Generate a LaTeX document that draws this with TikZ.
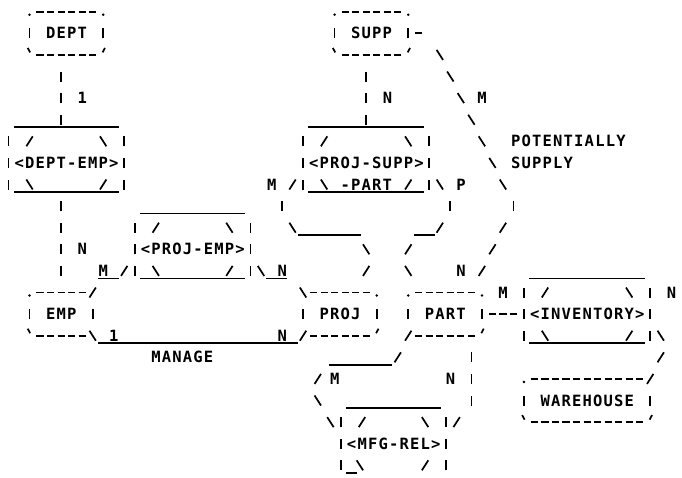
\documentclass[tikz,border=0pt]{standalone}
\usepackage{fontspec}
\newfontfamily\tfont{DejaVu Sans Mono}
\def\spread#1{\spreadA#1\relax}
\def\spreadA#1{\ifx\relax#1\else\makebox[10.52pt]{#1}\expandafter\spreadA\fi}
\newcommand\gPipe[2]{\draw[g] ([yshift=-5pt]#1,#2) -- ([yshift=5pt]#1,#2);}
\newcommand\gSl[2]{\draw[g] ([shift={(-3.2pt,-5pt)}]#1,#2) -- ([shift={(3.2pt,5pt)}]#1,#2);}
\newcommand\gBs[2]{\draw[g] ([shift={(-3.2pt,5pt)}]#1,#2) -- ([shift={(3.2pt,-5pt)}]#1,#2);}
\newcommand\gDash[2]{\draw[g] ([xshift=-3.6pt]#1,#2) -- ([xshift=3.6pt]#1,#2);}
\newcommand\gDashes[3]{\foreach \gi in {#1,...,#2}{\gDash{\gi}{#3}}}
\newcommand\gDot[2]{\fill ([yshift=-3pt]#1,#2) circle (1.4pt);}
\newcommand\gTl[2]{\draw[g] ([shift={(-1.8pt,7pt)}]#1,#2) -- ([shift={(0.6pt,2.5pt)}]#1,#2);}
\newcommand\gTr[2]{\draw[g] ([shift={(1.8pt,7pt)}]#1,#2) -- ([shift={(-0.6pt,2.5pt)}]#1,#2);}
\newcommand\gUl[3]{\draw[u] ([shift={(-5.26pt,-7.5pt)}]#1,#3) -- ([shift={(5.26pt,-7.5pt)}]#2,#3);}
\newcommand\gTx[4]{\node[t,anchor=west] (#3) at ([xshift=-5.26pt]#1,#2) {\spread{#4}};}
\begin{document}
\begin{tikzpicture}[
  g/.style={line width=1.7pt},
  u/.style={line width=1.7pt},
  t/.style={inner sep=0pt, font={\tfont\bfseries\fontsize{15.5pt}{16pt}\selectfont}}]
\useasboundingbox[fill=white] (0pt,0pt) rectangle (682pt,-477pt);
\begin{scope}[shift={(8.5pt,-11.7pt)}, x=10.52pt, y=-21.6pt]
% row 0
\gDot{2}{0}\gDashes{3}{8}{0}\gDot{9}{0}
\gDot{31}{0}\gDashes{32}{37}{0}\gDot{38}{0}
% row 1
\gPipe{2}{1}\gTx{4}{1}{dept}{DEPT}\gPipe{9}{1}
\gPipe{31}{1}\gTx{33}{1}{supp}{SUPP}\gPipe{38}{1}\gDash{39}{1}
% row 2
\gTl{2}{2}\gDashes{3}{8}{2}\gTr{9}{2}
\gTl{31}{2}\gDashes{32}{37}{2}\gTr{38}{2}\gBs{41}{2}
% row 3
\gPipe{5}{3}\gPipe{34}{3}\gBs{42}{3}
% row 4
\gPipe{5}{4}\gTx{7}{4}{c1}{1}\gPipe{34}{4}\gTx{36}{4}{c2}{N}\gBs{43}{4}\gTx{45}{4}{c3}{M}
% row 5
\gPipe{5}{5}\gUl{1}{10}{5}\gPipe{34}{5}\gUl{29}{39}{5}\gBs{44}{5}
% row 6
\gPipe{0}{6}\gSl{2}{6}\gBs{9}{6}\gPipe{11}{6}
\gPipe{28}{6}\gSl{30}{6}\gBs{38}{6}\gPipe{40}{6}
\gBs{45}{6}\gTx{48.2}{6}{pot}{POTENTIALLY}
% row 7
\gPipe{0}{7}\gTx{1}{7}{deptemp}{<DEPT-EMP>}\gPipe{11}{7}
\gPipe{28}{7}\gTx{29}{7}{projsupp}{<PROJ-SUPP>}\gPipe{40}{7}
\gBs{46}{7}\gTx{48.2}{7}{sup}{SUPPLY}
% row 8
\gPipe{0}{8}\gBs{2}{8}\gSl{9}{8}\gPipe{11}{8}\gUl{1}{10}{8}
\gTx{25}{8}{c4}{M}\gSl{27}{8}\gPipe{28}{8}\gBs{30}{8}\gTx{32}{8}{part2}{-PART}
\gSl{38}{8}\gPipe{40}{8}\gUl{29}{39}{8}\gBs{41}{8}\gTx{43}{8}{c5}{P}\gBs{47}{8}
% row 9
\gPipe{5}{9}\gUl{13}{22}{9}\gPipe{26}{9}\gPipe{42}{9}\gPipe{48}{9}
% row 10
\gPipe{5}{10}\gPipe{12}{10}\gSl{14}{10}\gBs{21}{10}\gPipe{23}{10}
\gBs{27}{10}\gUl{28}{33}{10}\gUl{39}{40}{10}\gSl{41}{10}\gSl{47}{10}
% row 11
\gPipe{5}{11}\gTx{7}{11}{c6}{N}\gPipe{12}{11}\gTx{13}{11}{projemp}{<PROJ-EMP>}\gPipe{23}{11}
\gBs{34}{11}\gSl{38}{11}\gSl{46}{11}
% row 12
\gPipe{5}{12}\gTx{9}{12}{c7}{M}\gUl{9}{10}{12}\gSl{11}{12}\gPipe{12}{12}
\gBs{14}{12}\gSl{21}{12}\gPipe{23}{12}\gUl{13}{22}{12}
\gBs{24}{12}\gTx{26}{12}{c8}{N}\gUl{25}{26}{12}
\gSl{34}{12}\gBs{38}{12}\gTx{43}{12}{c9}{N}\gSl{45}{12}\gUl{50}{60}{12}
% row 13
\gDot{2}{13}\gDashes{3}{7}{13}\gSl{8}{13}
\gBs{28}{13}\gDashes{29}{34}{13}\gDot{35}{13}
\gDot{38}{13}\gDashes{39}{44}{13}\gDot{45}{13}
\gTx{47}{13}{c10}{M}\gPipe{49}{13}\gSl{51}{13}\gBs{59}{13}\gPipe{61}{13}\gTx{63}{13}{c11}{N}
% row 14
\gPipe{2}{14}\gTx{4}{14}{emp}{EMP}\gPipe{8}{14}
\gPipe{28}{14}\gTx{30}{14}{proj}{PROJ}\gPipe{35}{14}
\gPipe{38}{14}\gTx{40}{14}{part}{PART}\gPipe{45}{14}\gDashes{46}{48}{14}
\gPipe{49}{14}\gTx{50}{14}{inv}{<INVENTORY>}\gPipe{61}{14}
% row 15
\gTl{2}{15}\gDashes{3}{7}{15}\gBs{8}{15}\gUl{9}{27}{15}\gTx{10}{15}{c12}{1}\gTx{26}{15}{c13}{N}
\gSl{28}{15}\gDashes{29}{34}{15}\gTr{35}{15}
\gSl{38}{15}\gDashes{39}{44}{15}\gTr{45}{15}
\gPipe{49}{15}\gBs{51}{15}\gSl{59}{15}\gPipe{61}{15}\gBs{62}{15}\gUl{50}{60}{15}
% row 16
\gTx{14}{16}{manage}{MANAGE}\gUl{31}{36}{16}\gSl{37}{16}\gPipe{44}{16}\gSl{62}{16}
% row 17
\gSl{29.4}{17}\gTx{31}{17}{c14}{M}\gTx{42}{17}{c15}{N}\gPipe{44}{17}
\gDot{49}{17}\gDashes{50}{60}{17}\gSl{61}{17}
% row 18
\gBs{29.4}{18}\gUl{32.6}{40.6}{18}\gPipe{44}{18}
\gPipe{49}{18}\gTx{51}{18}{ware}{WAREHOUSE}\gPipe{61}{18}
% row 19
\gBs{30.6}{19}\gPipe{31.6}{19}\gSl{33.6}{19}\gBs{39.6}{19}\gPipe{41.6}{19}\gSl{42.6}{19}
\gTl{49}{19}\gDashes{50}{60}{19}\gTr{61}{19}
% row 20
\gPipe{31.6}{20}\gTx{32.6}{20}{mfg}{<MFG-REL>}\gPipe{41.6}{20}
% row 21
\gPipe{31.6}{21}\gBs{33.4}{21}\gSl{39.6}{21}\gPipe{41.6}{21}\gUl{32.6}{32.6}{21}
\end{scope}
\end{tikzpicture}
\end{document}
